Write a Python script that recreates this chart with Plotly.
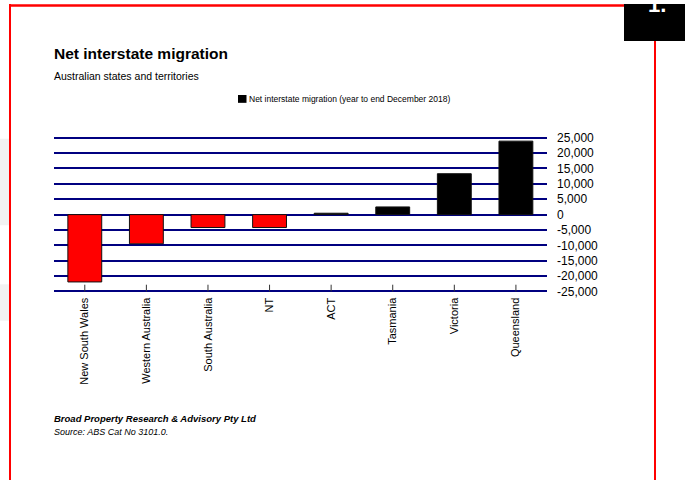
import plotly.graph_objects as go

categories = ["New South Wales", "Western Australia", "South Australia", "NT",
              "ACT", "Tasmania", "Victoria", "Queensland"]
net_migration = [-21900, -9500, -4200, -4200, 450, 2500, 13300, 23900]
series_name = "Net interstate migration (year to end December 2018)"
tick_vals = [25000, 20000, 15000, 10000, 5000, 0, -5000, -10000, -15000, -20000, -25000]
tick_text = ["25,000", "20,000", "15,000", "10,000", "5,000", "0",
             "-5,000", "-10,000", "-15,000", "-20,000", "-25,000"]

W, H = 685, 484
def px(x): return x / W
def py(y): return 1 - y / H

FONT = "Liberation Sans, Arial, sans-serif"

colors = ["#FF0000" if v < 0 else "#000000" for v in net_migration]

fig = go.Figure()
fig.add_trace(go.Bar(
    x=categories, y=net_migration, width=0.55,
    marker=dict(color=colors, line=dict(color="#111111", width=1)),
    showlegend=False, name=series_name,
))

# plot area: +/-25000 at pixel rows 136 and 292.3
top_px, bot_px = 136.0, 292.3
k = (bot_px - top_px) / 50000
pad = 1000
y0 = py(bot_px + pad * k)
y1 = py(top_px - pad * k)

fig.update_layout(
    width=W, height=H,
    margin=dict(l=0, r=0, t=0, b=0),
    paper_bgcolor="white", plot_bgcolor="white",
    showlegend=False,
    xaxis=dict(
        domain=[px(54), px(546.7)],
        tickangle=-90,
        tickfont=dict(family=FONT, size=11, color="#000"),
        ticks="", showgrid=False, showline=False, zeroline=False,
        anchor="y",
    ),
    yaxis=dict(
        domain=[y0, y1],
        range=[-25000 - pad, 25000 + pad],
        side="right",
        tickvals=tick_vals, ticktext=tick_text,
        tickfont=dict(family=FONT, size=12, color="#000"),
        ticks="outside", ticklen=7, tickcolor="rgba(0,0,0,0)",
        showgrid=True, gridcolor="#000080", gridwidth=1.5,
        zeroline=True, zerolinecolor="#000080", zerolinewidth=2,
        showline=False,
    ),
)

shapes = []
# small category tick marks rising from the -25,000 line
for c in categories:
    shapes.append(dict(type="line", xref="x", yref="y", x0=c, x1=c, y0=-25000, y1=-22800,
                       line=dict(color="#333333", width=1)))
# grey blocks on left edge
shapes.append(dict(type="rect", xref="paper", yref="paper", x0=0, x1=px(9),
                   y0=py(225), y1=py(137), fillcolor="#f2f2f2", line=dict(width=0), layer="below"))
shapes.append(dict(type="rect", xref="paper", yref="paper", x0=0, x1=px(9),
                   y0=py(322), y1=py(285), fillcolor="#f2f2f2", line=dict(width=0), layer="below"))
# red frame
shapes.append(dict(type="line", xref="paper", yref="paper", x0=px(10), x1=px(624),
                   y0=py(1.5), y1=py(1.5), line=dict(color="#FF0000", width=2.5)))
shapes.append(dict(type="line", xref="paper", yref="paper", x0=px(10), x1=px(10),
                   y0=0, y1=1, line=dict(color="#FF0000", width=2)))
shapes.append(dict(type="line", xref="paper", yref="paper", x0=px(655), x1=px(655),
                   y0=0, y1=py(37), line=dict(color="#FF0000", width=2)))
# black tab
shapes.append(dict(type="rect", xref="paper", yref="paper", x0=px(624), x1=1,
                   y0=py(37.7), y1=1, fillcolor="#000000", line=dict(width=0)))
# legend swatch
shapes.append(dict(type="rect", xref="paper", yref="paper", x0=px(238), x1=px(246.5),
                   y0=py(100.5), y1=py(92.5), fillcolor="#000000", line=dict(width=0)))
fig.update_layout(shapes=shapes)

ann = []
ann.append(dict(text="<b>Net interstate migration</b>", x=px(52), y=py(50), xref="paper", yref="paper",
                xanchor="left", yanchor="middle", showarrow=False,
                font=dict(family=FONT, size=15.5, color="#000")))
ann.append(dict(text="Australian states and territories", x=px(52), y=py(73.5), xref="paper", yref="paper",
                xanchor="left", yanchor="middle", showarrow=False,
                font=dict(family=FONT, size=10.5, color="#000")))
ann.append(dict(text=series_name, x=px(246.5), y=py(96.5), xref="paper", yref="paper",
                xanchor="left", yanchor="middle", showarrow=False,
                font=dict(family=FONT, size=8.5, color="#000")))
ann.append(dict(text="<b><i>Broad Property Research &amp; Advisory Pty Ltd</i></b>", x=px(52), y=py(421.5),
                xref="paper", yref="paper", xanchor="left", yanchor="middle", showarrow=False,
                font=dict(family=FONT, size=9.5, color="#000")))
ann.append(dict(text="<i>Source: ABS Cat No 3101.0.</i>", x=px(52), y=py(435), xref="paper", yref="paper",
                xanchor="left", yanchor="middle", showarrow=False,
                font=dict(family=FONT, size=9, color="#000")))
ann.append(dict(text="<b>1.</b>", x=px(646), y=py(15), xref="paper", yref="paper",
                xanchor="left", yanchor="bottom", showarrow=False,
                font=dict(family=FONT, size=22, color="#FFFFFF")))
fig.update_layout(annotations=ann)

fig.write_html("out.html", config={"displayModeBar": False},
               post_script="document.body.style.margin='0';document.body.style.overflow='hidden';")
